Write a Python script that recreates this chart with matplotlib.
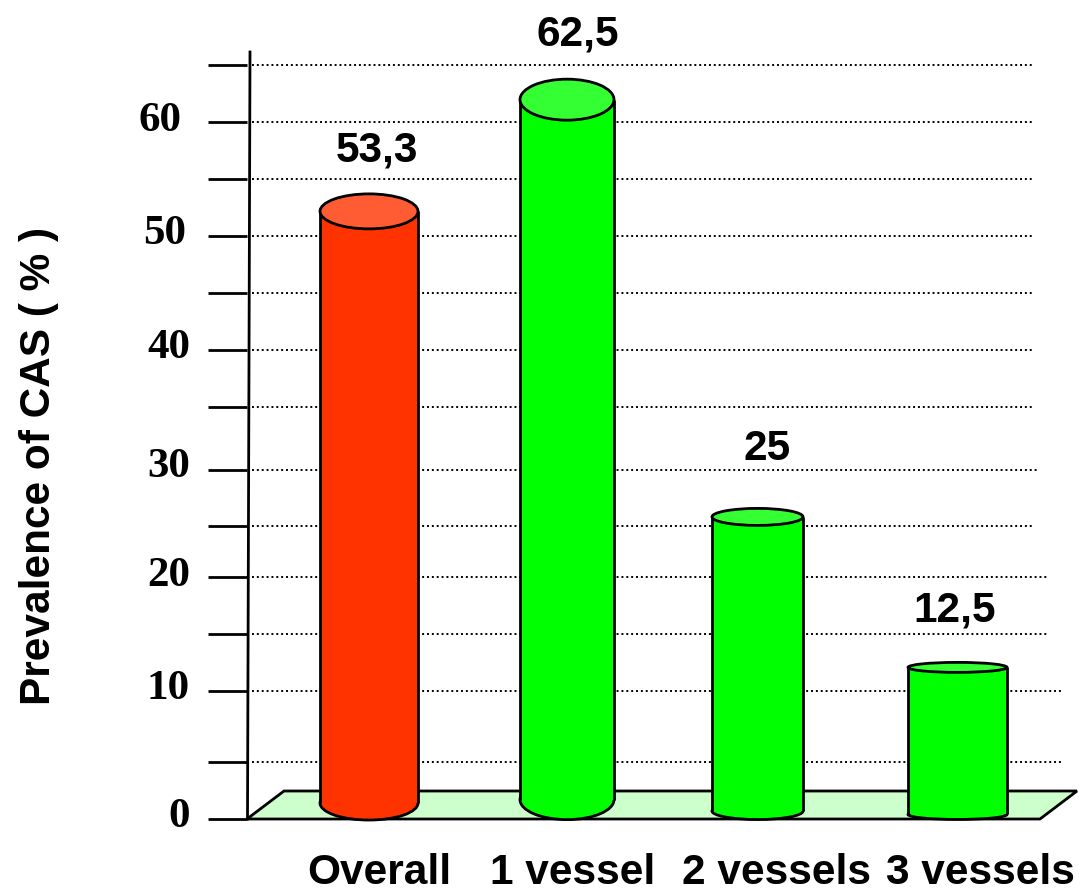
import matplotlib
matplotlib.use('Agg')
import matplotlib.pyplot as plt
from matplotlib.patches import Ellipse, Polygon

categories = ['Overall', '1 vessel', '2 vessels', '3 vessels']
value_labels = ['53,3', '62,5', '25', '12,5']
# bar heights, they don't quite agree with the printed labels
bar_tops = [53.3, 63.1, 26.5, 13.3]
bar_bases = [1.4, 1.7, 0.7, 0.4]
bar_colors = ['#FF3300', '#00FF00', '#00FF00', '#00FF00']
top_colors = ['#FF5C33', '#33FF33', '#33FF33', '#33FF33']

tick_values = [66.1, 61.1, 56.1, 51.1, 46.1, 41.1, 36.1, 30.6, 25.7, 21.2, 16.2, 11.2, 5.0, 0.0]
tick_labels = ['60', '50', '40', '30', '20', '10', '0']
grid_ends = [1032, 1032, 1032, 1032, 1032, 1032, 1032, 1037, 1032, 1049, 1048, 1061, 1062]

# layout, everything in reference pixels
W, H = 1079, 890
FLOOR_PX = 819
PX_PER_UNIT = 11.4
bar_centers = [369, 567, 757.5, 957.5]
bar_widths = [98, 94, 91, 99]
top_ry = [17.5, 20.5, 8.5, 5]
base_ry = [17, 20, 8.5, 5]
value_label_x = [377, 578, 767, 955]
value_label_base = [162, 46, 460, 622]
tick_label_right = [182, 186, 190, 190, 190, 190, 190]
tick_label_base = [131, 244, 358, 477, 586, 699, 827]
category_x = [379, 573, 777, 980]


def py(px):
    """Convert a pixel row of the reference to a value on the y axis."""
    return (FLOOR_PX - px) / PX_PER_UNIT


fig = plt.figure(figsize=(W / 100, H / 100), dpi=100)
ax = fig.add_axes([0, 0, 1, 1])
ax.set_xlim(0, W)
ax.set_ylim(py(H), py(0))
ax.axis('off')

# green floor
floor = Polygon([(247, py(819)), (284, py(791)), (1077, py(791)), (1040, py(819))],
                facecolor='#CCFFCC', edgecolor='black', linewidth=2, zorder=1)
ax.add_patch(floor)

# ticks and dotted grid
ax.hlines(tick_values, 208, 247, color='black', linewidth=2, zorder=2)
ax.hlines(tick_values[:-1], 252, grid_ends, color='black', linewidth=1.4,
          linestyles=(0, (1, 1.5)), zorder=2)
ax.plot([250, 247.5], [py(52), py(819)], color='black', linewidth=2, zorder=3)

# cylinders
for i in range(len(categories)):
    cx, w = bar_centers[i], bar_widths[i]
    ax.add_patch(Ellipse((cx, bar_bases[i]), w, 2 * base_ry[i] / PX_PER_UNIT,
                         facecolor=bar_colors[i], edgecolor='black', linewidth=2, zorder=4))
    ax.bar(cx, bar_tops[i] - bar_bases[i], width=w, bottom=bar_bases[i],
           color=bar_colors[i], linewidth=0, zorder=5)
    ax.vlines([cx - w / 2, cx + w / 2], bar_bases[i], bar_tops[i],
              color='black', linewidth=2, zorder=6)
    ax.add_patch(Ellipse((cx, bar_tops[i]), w, 2 * top_ry[i] / PX_PER_UNIT,
                         facecolor=top_colors[i], edgecolor='black', linewidth=2, zorder=7))

sans = dict(family='Liberation Sans', fontweight='bold', fontsize=30.5, color='black')
serif = dict(family='Liberation Serif', fontweight='bold', fontsize=31, color='black')

for x, base, label in zip(value_label_x, value_label_base, value_labels):
    ax.text(x, py(base), label, ha='center', va='baseline', **sans)
for x, label in zip(category_x, categories):
    ax.text(x, py(884), label, ha='center', va='baseline', **sans)
for x, base, label in zip(tick_label_right, tick_label_base, tick_labels):
    ax.text(x, py(base), label, ha='right', va='baseline', **serif)
ax.text(39, py(466), 'Prevalence of CAS ( % )', rotation=90, ha='center', va='center', **sans)

fig.savefig('out.png', dpi=100)
